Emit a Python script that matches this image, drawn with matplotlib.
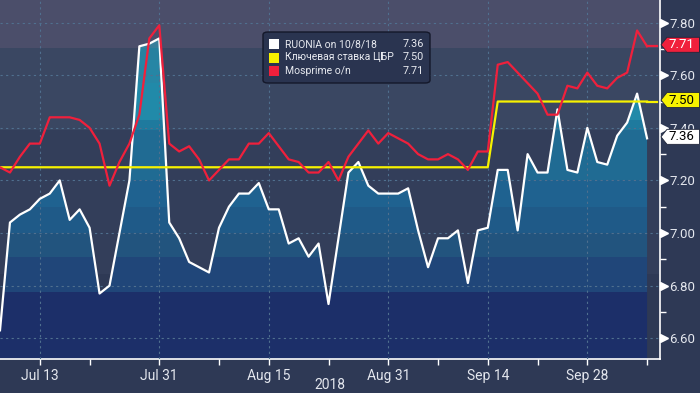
import matplotlib.pyplot as plt
import matplotlib.transforms as mtransforms
from matplotlib.patches import FancyBboxPatch, Polygon, Rectangle
import numpy as np
import pandas as pd

plt.rcParams['font.family'] = ['Roboto', 'DejaVu Sans']

# business days, Jul 9 - Oct 8 2018
dates = pd.bdate_range('2018-07-09', '2018-10-08')

ruonia = [6.63, 7.04, 7.07, 7.09, 7.13, 7.15, 7.20, 7.05, 7.09, 7.02,
          6.77, 6.80, 7.00, 7.20, 7.71, 7.72, 7.74, 7.04, 6.98, 6.89,
          6.87, 6.85, 7.02, 7.10, 7.15, 7.15, 7.19, 7.09, 7.09, 6.96,
          6.98, 6.91, 6.96, 6.73, 6.98, 7.23, 7.27, 7.18, 7.15, 7.15,
          7.15, 7.17, 7.01, 6.87, 6.98, 6.98, 7.01, 6.81, 7.01, 7.02,
          7.24, 7.24, 7.01, 7.30, 7.23, 7.23, 7.47, 7.24, 7.23, 7.40,
          7.27, 7.26, 7.37, 7.42, 7.53, 7.36]

mosprime = [7.25, 7.23, 7.29, 7.34, 7.34, 7.44, 7.44, 7.44, 7.43, 7.40,
            7.34, 7.18, 7.27, 7.34, 7.45, 7.74, 7.79, 7.34, 7.31, 7.33,
            7.28, 7.20, 7.24, 7.28, 7.28, 7.34, 7.34, 7.38, 7.33, 7.28,
            7.27, 7.23, 7.23, 7.27, 7.20, 7.29, 7.34, 7.39, 7.34, 7.38,
            7.36, 7.34, 7.30, 7.28, 7.28, 7.30, 7.28, 7.24, 7.31, 7.31,
            7.64, 7.65, 7.61, 7.57, 7.53, 7.45, 7.45, 7.56, 7.55, 7.61,
            7.56, 7.55, 7.59, 7.61, 7.77, 7.71]

key_rate = [7.25, 7.25, 7.25, 7.25, 7.25, 7.25, 7.25, 7.25, 7.25, 7.25,
            7.25, 7.25, 7.25, 7.25, 7.25, 7.25, 7.25, 7.25, 7.25, 7.25,
            7.25, 7.25, 7.25, 7.25, 7.25, 7.25, 7.25, 7.25, 7.25, 7.25,
            7.25, 7.25, 7.25, 7.25, 7.25, 7.25, 7.25, 7.25, 7.25, 7.25,
            7.25, 7.25, 7.25, 7.25, 7.25, 7.25, 7.25, 7.25, 7.25, 7.25,
            7.50, 7.50, 7.50, 7.50, 7.50, 7.50, 7.50, 7.50, 7.50, 7.50,
            7.50, 7.50, 7.50, 7.50, 7.50, 7.50]

series_names = ['RUONIA on 10/8/18', 'Ключевая ставка ЦБР', 'Mosprime o/n']
series_colors = ['#ffffff', '#f7f200', '#f0203c']

major_dates = ['2018-07-13', '2018-07-31', '2018-08-15', '2018-08-31', '2018-09-14', '2018-09-28']
major_labels = ['Jul 13', 'Jul 31', 'Aug 15', 'Aug 31', 'Sep 14', 'Sep 28']
minor_dates = ['2018-07-20', '2018-08-08', '2018-08-23', '2018-09-07', '2018-09-21', '2018-10-08']
yticks = [6.60, 6.80, 7.00, 7.20, 7.40, 7.60, 7.80]
yminor = [6.70, 6.90, 7.10, 7.30, 7.50, 7.70]

# banded colours of the area fill and of the background
fill_edges = [6.40, 6.776, 6.909, 7.00, 7.099, 7.202, 7.392, 7.43, 7.571, 7.658, 7.704, 7.95]
fill_colors = ['#1c2f69', '#204679', '#22547e', '#1f5a88', '#1f6290', '#206b93',
               '#1f7a9e', '#218aa9', '#2686a5', '#27819f', '#3a7f9b']
bg_edges = [6.40, 6.846, 7.39, 7.705, 7.95]
bg_colors = ['#2e3955', '#333e5a', '#3a4762', '#4b4e6a']

W, H = 700, 393
fig = plt.figure(figsize=(W / 100, H / 100), dpi=100, facecolor='#2e3955')
ax = fig.add_axes([0, 34 / H, 660 / W, 359 / H])

x = np.arange(len(dates))
ymin, ymax = 6.521, 7.886
ax.set_xlim(0, 66.3)
ax.set_ylim(ymin, ymax)

for lo, hi, c in zip(bg_edges[:-1], bg_edges[1:], bg_colors):
    ax.axhspan(lo, hi, color=c, lw=0, zorder=0)

area = ax.fill_between(x, ymin - 1, ruonia, facecolor='none', edgecolor='none')
clip = area.get_paths()[0]
for lo, hi, c in zip(fill_edges[:-1], fill_edges[1:], fill_colors):
    band = ax.axhspan(lo, hi, color=c, lw=0, zorder=1)
    band.set_clip_path(clip, ax.transData)

ax.plot(x, ruonia, color=series_colors[0], lw=1.6, zorder=4)
ext = [x[-1], x[-1] + 0.95]
ax.plot(x, key_rate, color=series_colors[1], lw=1.6, zorder=5)
ax.plot(ext, [key_rate[-1]] * 2, color=series_colors[1], lw=1.6, zorder=5)
ax.plot(x, mosprime, color=series_colors[2], lw=1.6, zorder=6)
ax.plot(ext, [mosprime[-1]] * 2, color=series_colors[2], lw=1.6, zorder=6)

# axes styling
for s in ['top', 'left']:
    ax.spines[s].set_visible(False)
for s in ['right', 'bottom']:
    ax.spines[s].set_color('white')
    ax.spines[s].set_linewidth(1.2)

ax.set_xticks([dates.get_loc(pd.Timestamp(d)) for d in major_dates])
ax.set_xticklabels(major_labels)
ax.set_xticks([dates.get_loc(pd.Timestamp(d)) for d in minor_dates], minor=True)
ax.tick_params(axis='x', which='both', colors='white', length=4, width=1,
               labelsize=10, labelcolor='#e4e7ee', pad=3)

ax.yaxis.tick_right()
ax.set_yticks(yticks)
ax.set_yticklabels(['%.2f' % v for v in yticks])
ax.set_yticks(yminor, minor=True)
ax.tick_params(axis='y', which='major', length=0, pad=6.5, labelsize=9.5,
               labelcolor='#e4e7ee')
ax.tick_params(axis='y', which='minor', length=4, width=1, colors='white')

ax.set_axisbelow(False)
ax.grid(True, which='major', color='#50708f', linestyle=(0, (2, 3)), linewidth=0.8)

# white arrow heads on the major y ticks
tri = mtransforms.offset_copy(mtransforms.blended_transform_factory(ax.transAxes, ax.transData),
                              fig=fig, x=4, y=0, units='dots')
ax.plot([1.0] * len(yticks), yticks, transform=tri, marker='>', ls='none',
        ms=5.5, color='white', clip_on=False, zorder=7)

fig.text(330 / W, 1 - 385 / H, '2018', ha='center', va='center', fontsize=10, color='#e4e7ee')


def figpt(px, py):
    return (px / W, 1 - py / H)


# legend box
lx0, ly0, lx1, ly1 = 263, 32, 430, 83
fig.patches.append(FancyBboxPatch(figpt(lx0, ly1), (lx1 - lx0) / W, (ly1 - ly0) / H,
                                  boxstyle='round,pad=0,rounding_size=0.007',
                                  transform=fig.transFigure, facecolor='#2a3450',
                                  edgecolor='#14182a', lw=1.0, zorder=10))
last_vals = [ruonia[-1], key_rate[-1], mosprime[-1]]
for i, (name, c, v) in enumerate(zip(series_names, series_colors, last_vals)):
    cy = 44 + i * 13.5
    fig.patches.append(Rectangle(figpt(269, cy + 5), 10 / W, 10 / H, transform=fig.transFigure,
                                 facecolor=c, edgecolor='none', zorder=11))
    fig.text(*figpt(285, cy), name, ha='left', va='center', fontsize=7.5,
             color='#e8eaf0', zorder=12)
    fig.text(*figpt(424, cy), '%.2f' % v, ha='right', va='center', fontsize=7.8,
             color='#e8eaf0', zorder=12)

# value tags on the right axis
tag_text = ['black', 'black', 'white']
for v, c, tc in zip(last_vals, series_colors, tag_text):
    yc = H - fig.transFigure.inverted().transform(ax.transData.transform((0, v)))[1] * H - 1.5
    pts = [figpt(661, yc), figpt(667, yc - 7.5), figpt(699.5, yc - 7.5),
           figpt(699.5, yc + 7.5), figpt(667, yc + 7.5)]
    fig.patches.append(Polygon(pts, closed=True, transform=fig.transFigure,
                               facecolor=c, edgecolor='#20263a', lw=0.6, zorder=10))
    fig.text(*figpt(681, yc), '%.2f' % v, ha='center', va='center', fontsize=9.5,
             color=tc, zorder=12)

fig.savefig('out.png', dpi=100, facecolor=fig.get_facecolor())
